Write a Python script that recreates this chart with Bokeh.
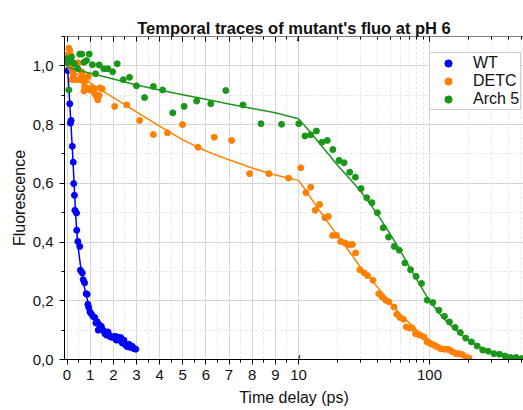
import numpy as np
from bokeh.plotting import figure
from bokeh.models import (Range1d, FixedTicker, LinearAxis, LogScale, Grid, Legend,
                          LegendItem, Label, Title, CustomJSTickFormatter)
from bokeh.embed import file_html
from bokeh.resources import INLINE

# ---------------- texts ----------------
TITLE = "Temporal traces of mutant's fluo at pH 6"
X_LABEL = "Time delay (ps)"
Y_LABEL = "Fluorescence"
SERIES = ["WT", "DETC", "Arch 5"]
COLORS = ["#0000ff", "#ff8000", "#1a961a"]

# ---------------- data ----------------
wt_t = [0.00, 0.03, 0.12, 0.15, 0.18, 0.23, 0.27, 0.29, 0.32, 0.34, 0.41, 0.42, 0.47, 0.55,
        0.58, 0.66, 0.70, 0.76, 0.83, 0.87, 0.90, 0.94, 0.99, 1.05, 1.12, 1.20, 1.25, 1.31,
        1.35, 1.41, 1.48, 1.52, 1.59, 1.64, 1.71, 1.77, 1.83, 1.88, 1.97, 2.06, 2.13, 2.17,
        2.24, 2.32, 2.39, 2.46, 2.53, 2.61, 2.68, 2.75, 2.82, 2.89, 2.97]
wt_y = [1.035, 0.984, 0.871, 0.805, 0.814, 0.726, 0.672, 0.599, 0.559, 0.508, 0.499, 0.44,
        0.402, 0.385, 0.304, 0.295, 0.272, 0.261, 0.224, 0.222, 0.188, 0.177, 0.162, 0.156,
        0.147, 0.143, 0.124, 0.128, 0.100, 0.117, 0.113, 0.103, 0.097, 0.088, 0.083, 0.094,
        0.083, 0.077, 0.075, 0.079, 0.066, 0.077, 0.066, 0.075, 0.056, 0.066, 0.049, 0.043,
        0.052, 0.041, 0.045, 0.037, 0.035]

detc_t = [0.00, 0.08, 0.12, 0.15, 0.18, 0.23, 0.23, 0.23, 0.27, 0.37, 0.47, 0.53, 0.63, 0.66,
          0.70, 0.73, 0.76, 0.81, 0.90, 0.92, 0.99, 1.06, 1.15, 1.20, 1.28, 1.33, 1.39, 1.42,
          1.52, 2.06, 2.58, 3.14, 3.73, 4.34, 4.99, 5.66, 6.36, 7.11, 7.89, 8.72, 9.57,
          10.4, 11.4, 12.4, 13.4, 14.5, 15.9, 16.9, 18.2, 19.5, 21.0, 22.6, 24.3, 25.8, 27.3,
          29.4, 31.7, 33.6, 37.0, 41.0, 43.6, 46.3, 49.1, 53.6, 56.3, 59.5, 63.2, 66.5, 70.5,
          73.8, 78.3, 84.4, 90.6, 96.0, 101.9, 108, 114.5, 121.5, 128.9, 137, 143, 150, 159,
          168, 178, 189, 200]
detc_y = [1.035, 1.06, 1.052, 0.995, 1.035, 1.012, 0.984, 0.953, 0.967, 0.953, 1.01, 0.953,
          0.98, 0.95, 0.964, 0.914, 0.93, 0.95, 0.922, 0.964, 0.918, 0.925, 0.918, 0.905,
          0.896, 0.884, 0.899, 0.925, 0.922, 0.862, 0.867, 0.814, 0.766, 0.772, 0.80, 0.723,
          0.757, 0.746, 0.633, 0.633, 0.618,
          0.653, 0.568, 0.587, 0.508, 0.528, 0.483, 0.487, 0.422, 0.423, 0.402, 0.397, 0.391,
          0.392, 0.363, 0.306, 0.295, 0.286, 0.27, 0.224, 0.213, 0.202, 0.196, 0.179, 0.154,
          0.143, 0.137, 0.111, 0.107, 0.107, 0.088, 0.083, 0.077, 0.06, 0.054, 0.049, 0.043,
          0.037, 0.035, 0.035, 0.032, 0.026, 0.02, 0.02, 0.017, 0.009, 0.005]

arch_t = [0.00, 0.02, 0.08, 0.12, 0.19, 0.27, 0.32, 0.47, 0.55, 0.64, 0.73, 0.84, 0.96, 1.10,
          1.23, 1.39, 1.59, 1.77, 1.97, 2.17, 2.43, 2.70, 3.00, 3.35, 3.73, 4.13, 4.57, 5.06,
          5.60, 6.21, 6.86, 7.60, 8.38, 9.27,
          10.05, 11.2, 12.4, 13.7, 15.1, 16.6, 18.3, 20.4, 22.3, 24.6, 27.2, 30.0, 33.2, 36.4,
          40.0, 44.4, 48.7, 53.8, 58.8, 64.9, 71.7, 79.0, 86.9, 96.0, 106, 118, 130, 142, 157,
          172, 189, 209, 231, 255, 281, 310, 342, 377, 415, 458, 506]
arch_y = [1.01, 1.024, 0.918, 1.018, 1.03, 1.01, 1.007, 0.99, 1.04, 1.04, 1.012, 1.018, 1.04,
          1.004, 0.973, 1.003, 0.99, 0.99, 0.98, 1.007, 0.953, 0.961, 0.932, 0.892, 0.93,
          0.918, 0.84, 0.862, 0.88, 0.871, 0.916, 0.867, 0.803, 0.801,
          0.803, 0.761, 0.765, 0.778, 0.74, 0.746, 0.715, 0.678, 0.67, 0.638, 0.621, 0.582,
          0.551, 0.534, 0.50, 0.449, 0.417, 0.385, 0.372, 0.329, 0.306, 0.283, 0.259, 0.202,
          0.194, 0.168, 0.147, 0.128, 0.109, 0.092, 0.073, 0.06, 0.046, 0.032, 0.028, 0.02,
          0.018, 0.012, 0.007, 0.007, 0.003]

# fitted curves
wt_fit_t = [0.0, 0.05, 0.1, 0.15, 0.2, 0.25, 0.3, 0.35, 0.4, 0.45, 0.5, 0.6, 0.7, 0.8, 0.9,
            1.0, 1.2, 1.4, 1.6, 1.8, 2.0, 2.25, 2.5, 2.75, 3.0]
wt_fit_y = [1.02, 0.96, 0.90, 0.83, 0.76, 0.69, 0.61, 0.53, 0.46, 0.41, 0.37, 0.31, 0.265,
            0.228, 0.197, 0.172, 0.138, 0.115, 0.098, 0.085, 0.074, 0.063, 0.054, 0.046, 0.04]
detc_fit_t = [0, 1, 2, 3, 4, 5, 6, 7, 8, 9, 10, 11, 12, 15, 20, 25, 30, 40, 50, 60, 80, 100,
              120, 150, 175, 200]
detc_fit_y = [0.995, 0.942, 0.892, 0.843, 0.795, 0.748, 0.71, 0.68, 0.652, 0.628, 0.61,
              0.585, 0.56, 0.497, 0.42, 0.362, 0.312, 0.247, 0.195, 0.153, 0.10, 0.067,
              0.045, 0.025, 0.014, 0.007]
arch_fit_t = [0, 1, 2, 3, 4, 5, 6, 7, 8, 9, 10, 12, 15, 20, 25, 30, 40, 50, 60, 70, 80, 100,
              125, 150, 200, 250, 300, 400, 520]
arch_fit_y = [0.995, 0.975, 0.955, 0.935, 0.918, 0.902, 0.886, 0.87, 0.855, 0.84, 0.82,
              0.78, 0.728, 0.66, 0.612, 0.572, 0.495, 0.428, 0.37, 0.316, 0.272, 0.20,
              0.145, 0.11, 0.063, 0.04, 0.025, 0.012, 0.006]

# ---------------- axes ticks ----------------
BREAK = 10.0
x_lin_ticks = [0, 1, 2, 3, 4, 5, 6, 7, 8, 9, 10]
x_lin_minor = [0.5, 1.5, 2.5, 3.5, 4.5, 5.5, 6.5, 7.5, 8.5, 9.5]
x_log_ticks = [100]
x_log_tick_labels = ["100"]
x_log_minor = [20, 30, 40, 50, 60, 70, 80, 90, 200, 300, 400, 500]
y_ticks = [0.0, 0.2, 0.4, 0.6, 0.8, 1.0]
y_minor = [0.1, 0.3, 0.5, 0.7, 0.9, 1.1]

# ---------------- broken axis geometry ----------------
LIN_LO, LIN_HI = -0.108, 19.72          # whole frame in linear units
LOG_HI = 522.0                          # right edge value of the log part
DEC = (LIN_HI - BREAK) / np.log10(LOG_HI / BREAK)   # linear units per decade
LOG_LO = BREAK * 10 ** ((LIN_LO - BREAK) / DEC)      # log range start so that 10 sits on the break


def brk(v):
    """position of a log-part tick on the linear guide axis"""
    return BREAK + np.log10(np.asarray(v, float) / BREAK) * DEC


FONT = "Liberation Sans"
TXT = "#111111"

p = figure(width=523, height=410, x_range=Range1d(LIN_LO, LIN_HI), y_range=Range1d(0, 1.1),
           output_backend="svg", toolbar_location=None, x_axis_location=None,
           y_axis_location=None, min_border_left=64, min_border_right=0, min_border_top=36,
           min_border_bottom=51, outline_line_color=None)
p.extra_x_ranges = {"log": Range1d(LOG_LO, LOG_HI)}
p.extra_x_scales = {"log": LogScale()}

log_pos = [float(v) for v in brk(x_log_ticks)]
xt = FixedTicker(ticks=x_lin_ticks + log_pos,
                 minor_ticks=x_lin_minor + [float(v) for v in brk(x_log_minor)])
yt = FixedTicker(ticks=y_ticks, minor_ticks=y_minor)

p.center = []
grid_kw = dict(grid_line_color="#d6d6d6", grid_line_width=1, minor_grid_line_color="#e6e6e6",
               minor_grid_line_dash="3 2")
p.add_layout(Grid(dimension=0, ticker=xt, **grid_kw), "center")
p.add_layout(Grid(dimension=1, ticker=yt, **grid_kw), "center")


def style(ax):
    ax.axis_line_color = "black"
    ax.axis_line_width = 1
    ax.major_tick_line_color = "black"
    ax.minor_tick_line_color = "black"
    ax.major_label_text_font = FONT
    ax.major_label_text_font_size = "15px"
    ax.major_label_text_color = TXT
    ax.axis_label_text_font = FONT
    ax.axis_label_text_font_style = "normal"
    ax.axis_label_text_font_size = "16px"
    ax.axis_label_text_color = TXT
    return ax


x_fmt = CustomJSTickFormatter(args=dict(pos=log_pos, txt=x_log_tick_labels), code="""
for (let i = 0; i < pos.length; i++) {
  if (Math.abs(tick - pos[i]) < 1e-6) return txt[i];
}
return tick.toFixed(0);
""")
comma_fmt = CustomJSTickFormatter(code="return tick.toFixed(1).replace('.', ',');")
out_kw = dict(major_tick_in=0, major_tick_out=5, minor_tick_in=0, minor_tick_out=3)
in_kw = dict(major_tick_in=5, major_tick_out=0, minor_tick_in=3, minor_tick_out=0)

p.add_layout(style(LinearAxis(ticker=xt, formatter=x_fmt, major_label_standoff=5, **out_kw)),
             "below")
top = style(LinearAxis(ticker=xt, fixed_location=1.1, **in_kw))
top.major_label_text_color = None
p.add_layout(top, "above")
p.add_layout(style(LinearAxis(ticker=yt, formatter=comma_fmt, major_label_standoff=6,
                              axis_label=Y_LABEL, axis_label_standoff=2, **out_kw)), "left")

# title
p.title.text = TITLE
p.title.align = "center"
p.title.offset = -2.5
p.title.standoff = 0
p.title.text_font = FONT
p.title.text_font_size = "16.5px"
p.title.text_font_style = "bold"
p.title.text_color = TXT

# x axis title, centred on the axis break
p.add_layout(Title(text=X_LABEL, align="center", offset=4.5, standoff=8, text_font=FONT,
                   text_font_size="16px", text_font_style="normal", text_color=TXT), "below")

# ---------------- series ----------------
series = [(wt_t, wt_y, wt_fit_t, wt_fit_y), (detc_t, detc_y, detc_fit_t, detc_fit_y),
          (arch_t, arch_y, arch_fit_t, arch_fit_y)]

legend_renderers = []
for (t, y, ft, fy), name, col in zip(series, SERIES, COLORS):
    t = np.asarray(t, float); y = np.asarray(y, float)
    ft = np.asarray(ft, float); fy = np.asarray(fy, float)
    first = None
    for rng, pm, fm in (("default", t < BREAK, ft <= BREAK), ("log", t >= BREAK, ft >= BREAK)):
        if fm.sum() > 1:
            p.line(ft[fm], fy[fm], line_color=col, line_width=1.5, x_range_name=rng)
        if pm.sum() > 0:
            r = p.scatter(t[pm], y[pm], size=6, fill_color=col, line_color=col,
                          x_range_name=rng)
            if first is None:
                first = r
    legend_renderers.append(first)

legend = Legend(items=[LegendItem(label=n, renderers=[r]) for n, r in zip(SERIES, legend_renderers)],
                location=(365, 249), padding=1, margin=0, spacing=0, glyph_width=34,
                glyph_height=18, label_height=18, label_standoff=8, label_text_font=FONT,
                label_text_font_size="16px", label_text_color=TXT,
                border_line_color="#a0a0a0", border_line_width=1,
                background_fill_color="white", background_fill_alpha=1)
p.add_layout(legend, "center")

# axis break marks
for yy in (0.0, 1.1):
    p.add_layout(Label(x=BREAK, y=yy, text="/", text_align="center", text_baseline="middle",
                       text_font=FONT, text_font_size="13px", text_color="black"))

with open("out.html", "w") as f:
    f.write(file_html(p, INLINE))
